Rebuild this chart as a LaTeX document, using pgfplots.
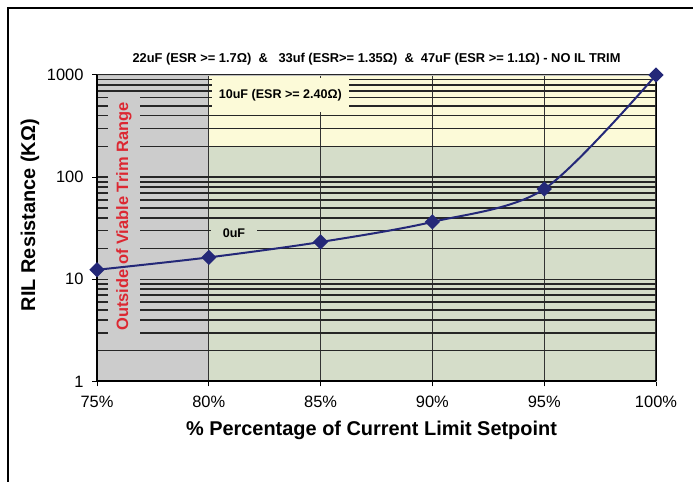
\documentclass[border=0pt]{standalone}
\usepackage{fontspec}
\setmainfont{Liberation Sans}
\usepackage{pgfplots}
\pgfplotsset{compat=1.18}

\definecolor{navy}{RGB}{36,40,120}
\definecolor{bggray}{RGB}{204,204,204}
\definecolor{bgyellow}{RGB}{252,250,216}
\definecolor{bggreen}{RGB}{213,221,201}
\definecolor{trimred}{RGB}{220,40,50}

\begin{document}
\begin{tikzpicture}
\begin{axis}[
    set layers,
    at={(97bp,100.5bp)}, anchor=south west,
    scale only axis, width=559bp, height=306.5bp,
    ymode=log,
    xmin=75, xmax=100, ymin=1, ymax=1000,
    xtick={75,80,...,100},
    xticklabels={75\%,80\%,85\%,90\%,95\%,100\%},
    ytick={1,10,100,1000},
    yticklabels={1,10,100,1000},
    minor ytick={2,3,4,5,6,7,8,9,20,30,40,50,60,70,80,90,200,300,400,500,600,700,800,900},
    xmajorgrids, ymajorgrids, yminorgrids,
    major grid style={black!85, line width=1.5bp},
    minor grid style={black!85, line width=1.5bp},
    x grid style={black!80, line width=1.3bp},
    tick pos=left, tick align=outside,
    major tick length=5bp, minor tick length=0pt,
    tick style={black, line width=1bp},
    axis line style={black!25, line width=0.8bp},
    ticklabel style={font=\fontsize{16.5}{18}\selectfont},
    xticklabel style={yshift=-6bp},
    yticklabel style={xshift=-5bp},
    /pgf/number format/assume math mode=true,
    clip=false,
]
% background bands
\addplot[draw=none, fill=bggray, on layer=axis background]
    coordinates {(75,1) (80,1) (80,1000) (75,1000)} -- cycle;
\addplot[draw=none, fill=bggreen, on layer=axis background]
    coordinates {(80,1) (100,1) (100,200) (80,200)} -- cycle;
\addplot[draw=none, fill=bgyellow, on layer=axis background]
    coordinates {(80,200) (100,200) (100,1000) (80,1000)} -- cycle;

\draw[line width=2bp] (rel axis cs:0,1) -- (rel axis cs:0,0) -- (rel axis cs:1,0);
\draw[line width=1bp] (rel axis cs:1,0) -- (rel axis cs:1,1);

\node[fill=bggray, inner sep=0pt, rotate=90, minimum width=247bp, minimum height=32bp,
      text=trimred, font=\bfseries\fontsize{16.5}{18}\selectfont]
      at (rel axis cs:0.0483,0.538) {Outside of Viable Trim Range};
\node[fill=bgyellow, inner sep=0pt, minimum width=137bp, minimum height=34bp,
      font=\bfseries\fontsize{12.6}{14}\selectfont]
      at (rel axis cs:0.328,0.935) {10uF (ESR >= 2.40Ω)};
\node[fill=bggreen, inner sep=0pt, minimum width=46bp, minimum height=23bp,
      font=\bfseries\fontsize{12.6}{14}\selectfont]
      at (rel axis cs:0.245,0.483) {0uF};

\addplot[navy, line width=2bp, smooth, tension=0.5,
         mark=square*, mark size=4.4bp, mark options={solid, fill=navy, rotate=45}]
    coordinates {
    (75,12.4)
    (80,16.4)
    (85,23.2)
    (90,36.5)
    (95,76.6)
    (100,1000)
};
\end{axis}

\node[font=\bfseries\fontsize{12.9}{14}\selectfont] at (376.5bp,423bp)
    {22uF (ESR >= 1.7Ω)\ \ \&\ \ \ 33uf (ESR>= 1.35Ω)\ \ \&\ \ 47uF (ESR >= 1.1Ω) - NO IL TRIM};
\node[font=\bfseries\fontsize{20}{22}\selectfont, rotate=90] at (30bp,267bp)
    {RIL Resistance (KΩ)};
\node[font=\bfseries\fontsize{20}{22}\selectfont] at (371.5bp,52bp)
    {\% Percentage of Current Limit Setpoint};
\draw[line width=1.2bp] (8bp,-2bp) -- (8bp,474bp) -- (695bp,474bp);

\pgfresetboundingbox
\path[use as bounding box] (0,0) rectangle (693bp,482bp);
\end{tikzpicture}
\end{document}
